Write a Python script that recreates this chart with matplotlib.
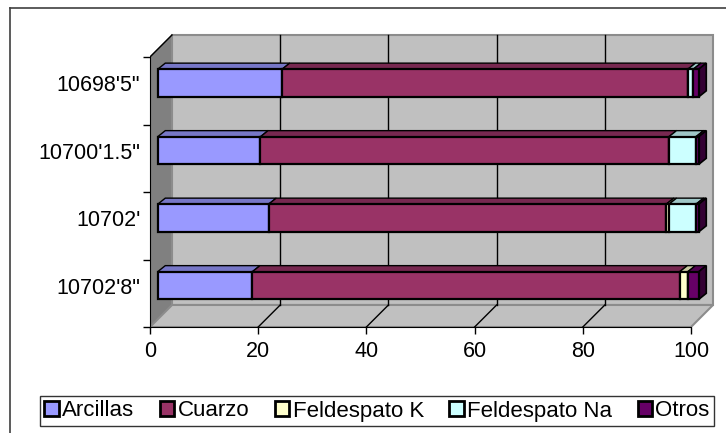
import matplotlib as mpl
mpl.use('Agg')
import matplotlib.pyplot as plt
from matplotlib.patches import Polygon
from matplotlib.lines import Line2D
import numpy as np

plt.rcParams['font.family'] = ['Liberation Sans', 'DejaVu Sans']

# depths, bottom to top
depths = ["10702'8\"", "10702'", "10700'1.5\"", "10698'5\""]
series = ['Arcillas', 'Cuarzo', 'Feldespato K', 'Feldespato Na', 'Otros']
arcillas = [17.5, 20.5, 19.0, 23.0]
cuarzo = [79.0, 73.5, 75.5, 75.0]
feld_k = [1.5, 0.5, 0.0, 0.0]
feld_na = [0.0, 5.0, 5.0, 1.0]
otros = [2.0, 0.5, 0.5, 1.0]
xticks = [0, 20, 40, 60, 80, 100]

colors = ['#9999FF', '#993366', '#FFFFCC', '#CCFFFF', '#660066']

def shade(c, f):
    r, g, b = mpl.colors.to_rgb(c)
    return (r * f, g * f, b * f)

fig = plt.figure(figsize=(7.26, 4.33), dpi=100)
fig.patch.set_facecolor('white')

# outer chart frame (cropped on right / bottom)
fig.add_artist(Line2D([10 / 726, 1.0], [1 - 8 / 433, 1 - 8 / 433], color='#404040', lw=1.2))
fig.add_artist(Line2D([10 / 726, 10 / 726], [0.0, 1 - 8 / 433], color='#404040', lw=1.2))

ylim_top = 4.36
ax = fig.add_axes([150 / 726, (433 - 327) / 433, 570 / 726, ylim_top * 67.5 / 433])
ax.set_xlim(0, 570 / 5.41)
ax.set_ylim(0, ylim_top)
ax.set_facecolor('none')

D, Ddy = 4.07, 0.326  # wall depth
n = len(depths)

# walls and floor
ax.add_patch(Polygon([(0, 0), (D, Ddy), (D, n + Ddy), (0, n)], closed=True,
                     facecolor='#808080', edgecolor='#808080', lw=1, zorder=0))
ax.add_patch(Polygon([(D, Ddy), (100 + D, Ddy), (100 + D, n + Ddy), (D, n + Ddy)], closed=True,
                     facecolor='#C0C0C0', edgecolor='#8c8c8c', lw=1.5, zorder=0))
ax.add_patch(Polygon([(0, 0), (100, 0), (100 + D, Ddy), (D, Ddy)], closed=True,
                     facecolor='#C0C0C0', edgecolor='#8c8c8c', lw=1.5, zorder=0))
for x in xticks[1:-1]:
    ax.plot([x + D, x + D], [Ddy, n + Ddy], color='black', lw=1, zorder=1)
    ax.plot([x, x + D], [0, Ddy], color='black', lw=1, zorder=1)
ax.plot([0, D], [n, n + Ddy], color='black', lw=1, zorder=1)

# 3d-looking stacked bars
f = 0.35
ox, oy = f * D, f * Ddy
bh = 0.41
bdx, bdy = 1.4, 0.09
ycent = np.arange(n) + 0.5 + oy
data = [arcillas, cuarzo, feld_k, feld_na, otros]
left = np.zeros(n)
for vals, col, name in zip(data, colors, series):
    vals = np.array(vals)
    ax.barh(ycent, vals, left=left + ox, height=bh, color=col, edgecolor='black',
            lw=1.6, zorder=3, label=name)
    for i in range(n):
        if vals[i] <= 0:
            continue
        l, r = left[i] + ox, left[i] + vals[i] + ox
        yt = ycent[i] + bh / 2
        ax.add_patch(Polygon([(l, yt), (r, yt), (r + bdx, yt + bdy), (l + bdx, yt + bdy)],
                             closed=True, facecolor=shade(col, 0.78), edgecolor='black',
                             lw=1.0, zorder=2))
    left += vals
for i in range(n):
    R = left[i] + ox
    yb, yt = ycent[i] - bh / 2, ycent[i] + bh / 2
    ax.add_patch(Polygon([(R, yb), (R, yt), (R + bdx, yt + bdy), (R + bdx, yb + bdy)],
                         closed=True, facecolor=shade(colors[-1], 0.5), edgecolor='black',
                         lw=1.2, zorder=2))

# axes
for s in ['top', 'right']:
    ax.spines[s].set_visible(False)
ax.spines['left'].set_bounds(0, n)
ax.spines['bottom'].set_bounds(0, 100)
ax.spines['left'].set_zorder(1)
ax.set_xticks(xticks)
ax.set_xticklabels([str(x) for x in xticks], fontsize=15.5)
ax.tick_params(axis='x', length=5, width=1, pad=5)
ax.set_yticks(np.arange(n + 1))
ax.set_yticklabels([])
ax.tick_params(axis='y', which='major', length=5, width=1)
ax.set_yticks(ycent, minor=True)
ax.set_yticklabels(depths, minor=True, fontsize=15.5)
ax.tick_params(axis='y', which='minor', length=0, pad=7)

leg = fig.legend(loc='center', bbox_to_anchor=(377 / 726, 1 - 411 / 433), ncol=5, fontsize=16,
                 frameon=True, fancybox=False, edgecolor='black', borderpad=0.2,
                 handlelength=0.65, handleheight=0.65, handletextpad=0.15, columnspacing=1.15,
                 borderaxespad=0)
for h in leg.legend_handles:
    h.set_linewidth(2)

fig.savefig('out.png', dpi=100)
